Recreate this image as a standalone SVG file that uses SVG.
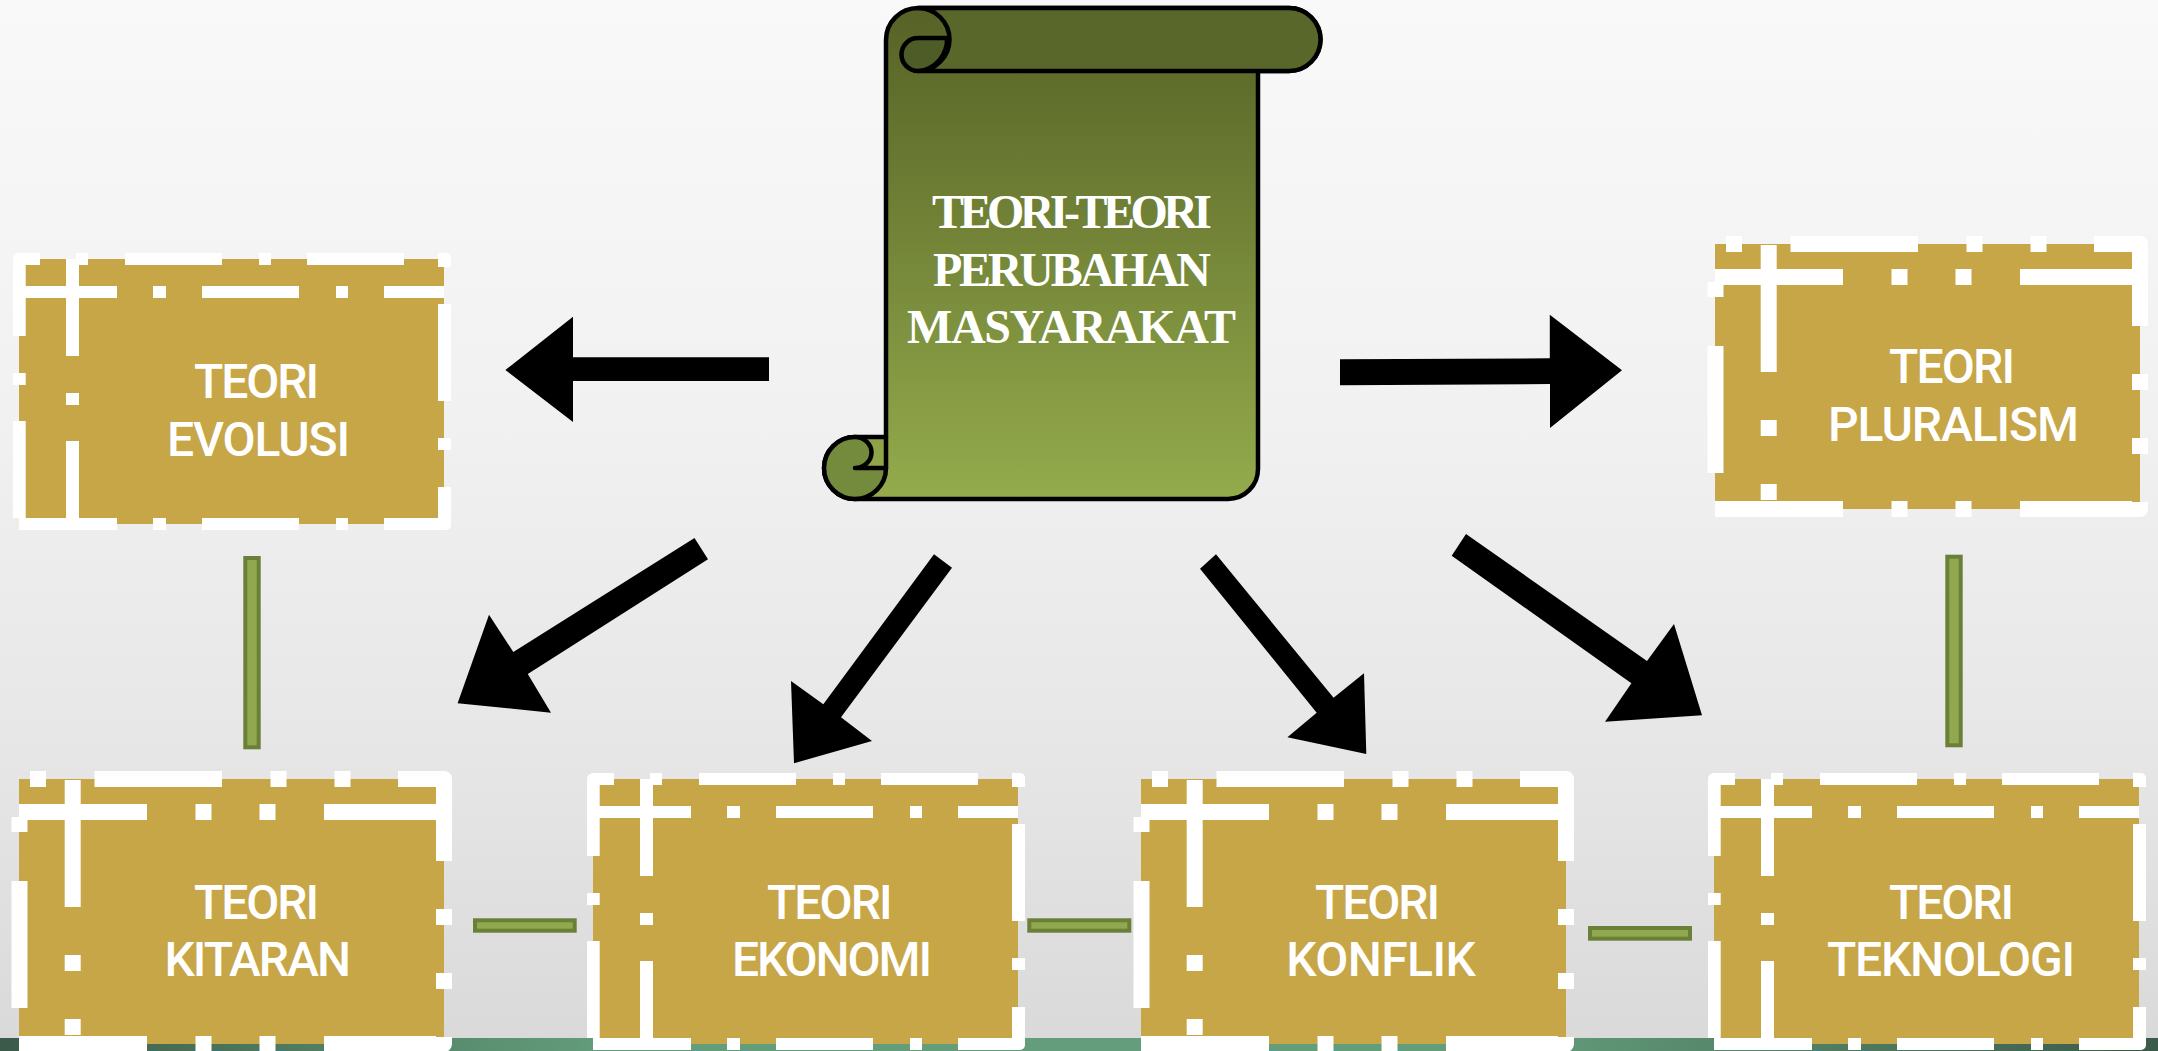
<svg xmlns="http://www.w3.org/2000/svg" width="2158" height="1051" viewBox="0 0 2158 1051">
<style>
.gold{fill:#c7a647}
.w{fill:#fff}
.lbl{font-family:Roboto,"Liberation Sans",sans-serif;font-weight:500;font-size:48px;fill:#fff;text-anchor:middle}
.ttl{font-family:"Liberation Serif",serif;font-weight:700;font-size:48px;fill:#fff;text-anchor:middle}
.arrow{fill:#000}
.link{fill:#92a84e;stroke:#6a7f38;stroke-width:4}
.sk{stroke:#000;stroke-width:4.500;stroke-linejoin:round;stroke-linecap:round}
</style>
<defs>
<linearGradient id="bg" x1="0" y1="0" x2="0" y2="1"><stop offset="0" stop-color="#f9f9f9"/><stop offset="0.4" stop-color="#f1f1f1"/><stop offset="0.7" stop-color="#e7e7e7"/><stop offset="1" stop-color="#d9d9d9"/></linearGradient>
<linearGradient id="band" x1="0" y1="0" x2="1" y2="0"><stop offset="0" stop-color="#3c5a49"/><stop offset="0.28" stop-color="#639d7b"/><stop offset="0.7" stop-color="#639d7b"/><stop offset="1" stop-color="#3c5a49"/></linearGradient>
<linearGradient id="sc" gradientUnits="userSpaceOnUse" x1="0" y1="8" x2="0" y2="499"><stop offset="0" stop-color="#566226"/><stop offset="1" stop-color="#94ab4c"/></linearGradient>
<g id="frameA" class="w">
<rect class="gold" width="425" height="265"/>
<path d="M-6 77V0a6 6 0 0 1 6-6H21V6H6.700V77Z"/>
<rect x="57" y="-6" width="12" height="12"/><rect x="106" y="-6" width="97" height="12"/><rect x="240" y="-6" width="12" height="12"/><rect x="288" y="-6" width="97" height="12"/>
<path d="M419 -6H427a5 5 0 0 1 5 5V8H419Z"/>
<rect x="-6" y="27" width="104" height="12"/><rect x="134" y="27" width="13" height="12"/><rect x="183" y="27" width="97" height="12"/><rect x="317" y="27" width="12" height="12"/><rect x="365" y="27" width="60" height="12"/>
<rect y="259" width="98" height="12"/><rect x="134" y="259" width="13" height="12"/><rect x="183" y="259" width="97" height="12"/><rect x="317" y="259" width="12" height="12"/>
<path d="M365 259H419V228H432V266a5 5 0 0 1-5 5H365Z"/>
<rect x="-6" y="114" width="12.700" height="12"/><rect x="-6" y="162" width="12.700" height="97"/>
<rect x="47" width="13" height="97"/><rect x="47" y="134" width="13" height="12"/><rect x="47" y="182" width="13" height="77"/>
<rect x="419" y="45" width="13" height="97"/><rect x="419" y="179" width="13" height="12"/>
</g>
<g id="frameB" class="w">
<rect class="gold" width="425" height="265"/>
<rect x="11" y="-8" width="16" height="16"/><rect x="75.500" y="-8" width="127.500" height="16"/><rect x="251.500" y="-8" width="16" height="16"/><rect x="315.500" y="-8" width="16" height="16"/>
<path d="M379 -8H425a8 8 0 0 1 8 8V82H417V8H379Z"/>
<rect y="25" width="128" height="16"/><rect x="176.500" y="25" width="16" height="16"/><rect x="240.500" y="25" width="16" height="16"/><rect x="305" y="25" width="112" height="16"/>
<rect y="257" width="128" height="16"/><rect x="176.500" y="257" width="16" height="16"/><rect x="240.500" y="257" width="16" height="16"/>
<path d="M305 257H417V258H433V265a8 8 0 0 1-8 8H305Z"/>
<rect x="-7.500" y="38" width="16" height="15"/><rect x="-7.500" y="102" width="16" height="127"/>
<rect x="45.700" y="1" width="16" height="127"/><rect x="45.700" y="176" width="16" height="16"/><rect x="45.700" y="240" width="16" height="16"/>
<rect x="417" y="130" width="16" height="16"/><rect x="417" y="194" width="16" height="16"/>
</g>
</defs>
<rect id="background" width="2158" height="1051" fill="url(#bg)"/>
<rect id="footer-band" y="1038" width="2158" height="13" fill="url(#band)"/>

<g id="connectors">
<polygon class="arrow" points="769,357.300 573,357.300 573,316.700 505.400,370 573,422 573,381 769,381"/>
<polygon class="arrow" points="694.500,538 708,559.300 527.800,674 551,712.700 457.600,703.300 489,614.700 513.300,652"/>
<polygon class="arrow" points="934,554.300 952,567.700 841,717.300 872,741 794,763.300 791,681 823.300,704.300"/>
<polygon class="arrow" points="1340,359.300 1549.800,358.300 1549.800,314.700 1622,370.300 1550,428 1550,384 1340,385.300"/>
<polygon class="arrow" points="1216,554.300 1200,568.700 1316.700,712.700 1287.400,737.300 1366.300,754 1364,673.300 1333.600,697.700"/>
<polygon class="arrow" points="1466,534 1451.700,555.700 1631.400,683.300 1605,721.700 1702,715.300 1674,624 1647,661"/>
<rect class="link" x="245.300" y="558" width="13.400" height="189.300"/>
<rect class="link" x="1947.300" y="556.700" width="13.400" height="188.600"/>
<rect class="link" x="475" y="920.300" width="99.700" height="10.400"/>
<rect class="link" x="1029.300" y="920.300" width="100" height="10.400"/>
<rect class="link" x="1590" y="928" width="100" height="10.700"/>
</g>

<g id="node-scroll">
<path class="sk" fill="url(#sc)" d="M886 40A32 32 0 0 1 918 8H1289A31.500 31.500 0 0 1 1289 71H1258V469A30 30 0 0 1 1228 499H855A31 31 0 0 1 855 437H886Z"/>
<path fill="#59672a" class="sk" d="M918 8H1289A31.500 31.500 0 0 1 1289 71H918A31.500 31.500 0 0 0 918 8Z"/>
<path fill="#4e5c27" class="sk" d="M947 38H918A16.500 16.500 0 0 0 918 71A31.500 31.500 0 0 0 947 38Z"/>
<path fill="#748a3c" class="sk" d="M855 468H886A31 31 0 0 1 855 499A31 31 0 0 1 855 437A16.500 15.500 0 0 1 855 468Z"/>
<path class="sk" fill="none" d="M886 437V468"/>
<text class="ttl" x="1072" y="228" textLength="280">TEORI-TEORI</text>
<text class="ttl" x="1072" y="286" textLength="278">PERUBAHAN</text>
<text class="ttl" x="1071.500" y="343" textLength="329">MASYARAKAT</text>
</g>

<g id="node-evolusi" transform="translate(19 259)"><use href="#frameA"/>
<text class="lbl" x="237.500" y="139" textLength="125">TEORI</text><text class="lbl" x="239.500" y="197" textLength="183">EVOLUSI</text></g>
<g id="node-pluralism" transform="translate(1715 244)"><use href="#frameB"/>
<text class="lbl" x="237" y="139" textLength="126">TEORI</text><text class="lbl" x="238.500" y="197" textLength="251">PLURALISM</text></g>
<g id="node-kitaran" transform="translate(19 779)"><use href="#frameB"/>
<text class="lbl" x="237.500" y="140" textLength="125">TEORI</text><text class="lbl" x="238.700" y="197" textLength="186.500">KITARAN</text></g>
<g id="node-ekonomi" transform="translate(593 779)"><use href="#frameA"/>
<text class="lbl" x="236.800" y="140" textLength="125.600">TEORI</text><text class="lbl" x="239" y="197" textLength="200">EKONOMI</text></g>
<g id="node-konflik" transform="translate(1141 779)"><use href="#frameB"/>
<text class="lbl" x="236.500" y="140" textLength="125">TEORI</text><text class="lbl" x="240" y="197" textLength="189.500">KONFLIK</text></g>
<g id="node-teknologi" transform="translate(1714 779)"><use href="#frameA"/>
<text class="lbl" x="237.500" y="140" textLength="125">TEORI</text><text class="lbl" x="237" y="197" textLength="248">TEKNOLOGI</text></g>
</svg>
